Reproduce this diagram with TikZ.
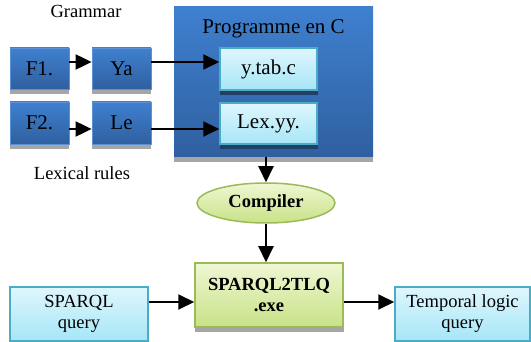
\documentclass[tikz,border=0pt]{standalone}
\usepackage{fontspec}
\setmainfont{Liberation Serif}
\usetikzlibrary{arrows.meta,shapes.geometric}
\pgfdeclarelayer{bgzero}
\pgfdeclarelayer{bgone}
\pgfdeclarelayer{shlayer}
\pgfsetlayers{bgzero,bgone,shlayer,main}
\definecolor{dbTop}{HTML}{3F80CF}
\definecolor{dbBot}{HTML}{2F60A0}
\definecolor{dbLine}{HTML}{5B92D6}
\definecolor{lbTop}{HTML}{DFF6FD}
\definecolor{lbBot}{HTML}{A6E6F7}
\definecolor{lbLine}{HTML}{4BACC6}
\definecolor{gTop}{HTML}{EFF7D3}
\definecolor{gBot}{HTML}{C8E287}
\definecolor{gLine}{HTML}{9BBB59}
\definecolor{shGray}{HTML}{A6A6A6}
\definecolor{shNavy}{HTML}{233F68}
\tikzset{
  small/.style={font=\fontsize{18.5}{21}\selectfont},
  big/.style={font=\fontsize{21}{24}\selectfont},
  darkbox/.style={draw=dbLine, line width=0.8pt, top color=dbTop, bottom color=dbBot,
    inner sep=0pt, big},
  lightbox/.style={draw=lbLine, line width=1.5pt, top color=lbTop, bottom color=lbBot,
    inner sep=0pt, align=center},
  greenbox/.style={draw=gLine, line width=1.5pt, top color=gTop, bottom color=gBot,
    inner sep=0pt, align=center},
  arr/.style={line width=2pt, -{Triangle[length=16pt,width=15pt]}},
}
\begin{document}
\begin{tikzpicture}[x=1pt,y=1pt]
\useasboundingbox (0,0) rectangle (531,-342);
% Programme en C container
\begin{pgfonlayer}{bgone}
\node[darkbox, line width=0pt, draw=none, minimum width=199pt, minimum height=150pt] (prog) at (273.5,-82) {};
\end{pgfonlayer}
\node[big, anchor=base] (progt) at (273.5,-34) {Programme en C};
% left boxes
\node[darkbox, minimum width=59pt, minimum height=41pt] (f1) at (39.5,-68.5) {F1.};
\node[darkbox, minimum width=59pt, minimum height=41pt] (ya) at (121.5,-68.5) {Ya};
\node[darkbox, minimum width=59pt, minimum height=42pt] (f2) at (39.5,-123) {F2.};
\node[darkbox, minimum width=59pt, minimum height=42pt] (le) at (121.5,-123) {Le};
\node[small, anchor=base] (gram) at (86,-18) {Grammar};
\node[small, anchor=base] (lexr) at (82,-180) {Lexical rules};
% inner light boxes
\node[lightbox, big, minimum width=97pt, minimum height=42pt] (ytab) at (268.5,-69) {y.tab.c};
\node[lightbox, big, minimum width=97pt, minimum height=41pt] (lex) at (268.5,-123.5) {Lex.yy.};
% compiler
\node[greenbox, ellipse, small, minimum width=138pt, minimum height=40pt] (comp) at (266,-203) {\textbf{Compiler}};
% bottom row
\node[greenbox, small, minimum width=148pt, minimum height=64pt] (sp) at (269,-295) {\textbf{SPARQL2TLQ}\\\textbf{.exe}};
\node[lightbox, small, minimum width=138pt, minimum height=54pt] (spq) at (79,-314) {SPARQL\\query};
\node[lightbox, small, minimum width=135pt, minimum height=54pt] (tlq) at (462.5,-314) {Temporal logic\\query};
% shadows
\begin{pgfonlayer}{bgzero}
\fill[shGray] ([yshift=-5pt]prog.south west) rectangle (prog.east);
\end{pgfonlayer}
\begin{pgfonlayer}{shlayer}
\foreach \n in {f1,ya,f2,le}
  \fill[shGray] ([yshift=-4.5pt]\n.south west) rectangle (\n.east);
\foreach \n in {ytab,lex}
  \fill[shNavy] ([xshift=1pt,yshift=-4pt]\n.south west) rectangle (\n.east);
\fill[shGray] ([xshift=1pt,yshift=-4pt]sp.south west) rectangle (sp.east);
\end{pgfonlayer}
% arrows
\draw[arr] ([yshift=6.5pt]f1.east) -- ([yshift=6.5pt]ya.west);
\draw[arr] ([yshift=6.5pt]ya.east) -- ([yshift=7pt]ytab.west);
\draw[arr] ([yshift=-6pt]f2.east) -- ([yshift=-6pt]le.west);
\draw[arr] ([yshift=-6pt]le.east) -- ([yshift=-5.5pt]lex.west);
\draw[arr] (prog.south -| comp.north) -- (comp.north);
\draw[arr] (comp.south) -- (sp.north -| comp.south);
\draw[arr] ([yshift=12pt]spq.east) -- ([yshift=-7pt]sp.west);
\draw[arr] ([yshift=-7pt]sp.east) -- ([yshift=12pt]tlq.west);
\end{tikzpicture}
\end{document}
